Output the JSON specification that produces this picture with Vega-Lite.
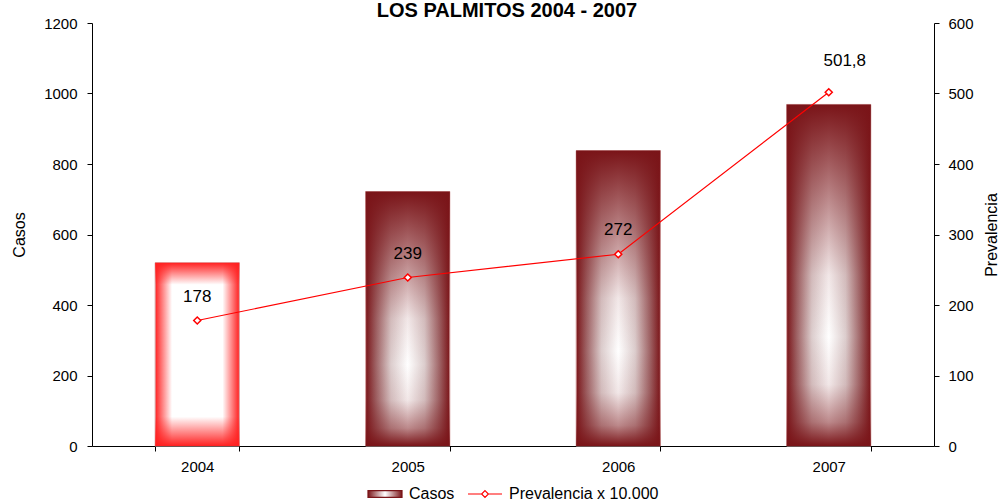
{
  "$schema": "https://vega.github.io/schema/vega-lite/v6.json",
  "autosize": {"type": "none"},
  "width": 842,
  "height": 423,
  "padding": {"left": 92, "top": 23, "right": 68, "bottom": 56},
  "background": "white",
  "title": {
    "text": "LOS PALMITOS 2004 - 2007",
    "font": "Liberation Sans",
    "fontSize": 20,
    "fontWeight": "bold",
    "color": "black",
    "anchor": "middle",
    "baseline": "alphabetic",
    "offset": -21,
    "dx": -6
  },
  "config": {
    "view": {"stroke": null},
    "axis": {
      "labelFont": "Liberation Sans",
      "titleFont": "Liberation Sans",
      "labelColor": "black",
      "titleColor": "black",
      "domainColor": "black",
      "tickColor": "black",
      "grid": false,
      "labelFontSize": 15,
      "titleFontSize": 16,
      "titleFontWeight": "normal"
    }
  },
  "data": {
    "values": [
      {"year": "2004", "Casos": 520, "Prevalencia": 178, "label": "178"},
      {"year": "2005", "Casos": 722, "Prevalencia": 239, "label": "239"},
      {"year": "2006", "Casos": 838, "Prevalencia": 272, "label": "272"},
      {"year": "2007", "Casos": 969, "Prevalencia": 501.8, "label": "501,8"}
    ]
  },
  "encoding": {
    "x": {
      "field": "year",
      "type": "ordinal",
      "scale": {"paddingInner": 0.6, "paddingOuter": 0.3},
      "axis": {"title": null, "labelAngle": 0, "tickBand": "extent", "tickSize": 5, "labelPadding": 8}
    }
  },
  "layer": [
    {
      "encoding": {
        "y": {
          "field": "Casos",
          "type": "quantitative",
          "scale": {"domain": [0, 1200]},
          "axis": {
            "values": [0, 200, 400, 600, 800, 1000, 1200],
            "format": "d",
            "tickSize": 5,
            "labelPadding": 10,
            "title": "Casos",
            "titlePadding": 16
          }
        }
      },
      "layer": [
        {
          "mark": {"type": "bar", "stroke": "#d9a8a8", "strokeWidth": 1},
          "encoding": {
            "fill": {
              "condition": {
                "test": "datum.year === '2004'",
                "value": {
                  "gradient": "linear", "x1": 0, "y1": 0, "x2": 1, "y2": 0,
                  "stops": [
                    {"offset": 0, "color": "#ff2020"},
                    {"offset": 0.2, "color": "#ffffff"},
                    {"offset": 0.8, "color": "#ffffff"},
                    {"offset": 1, "color": "#ff2020"}
                  ]
                }
              },
              "value": {
                "gradient": "linear", "x1": 0, "y1": 0, "x2": 1, "y2": 0,
                "stops": [
                  {"offset": 0, "color": "#7a1418"},
                  {"offset": 0.12, "color": "#9e6264"},
                  {"offset": 0.3, "color": "#dccdcd"},
                  {"offset": 0.5, "color": "#ffffff"},
                  {"offset": 0.7, "color": "#dccdcd"},
                  {"offset": 0.88, "color": "#9e6264"},
                  {"offset": 1, "color": "#7a1418"}
                ]
              }
            }
          }
        },
        {
          "mark": {"type": "bar"},
          "encoding": {
            "fill": {
              "condition": {
                "test": "datum.year === '2004'",
                "value": {
                  "gradient": "linear", "x1": 0, "y1": 0, "x2": 0, "y2": 1,
                  "stops": [
                    {"offset": 0, "color": "rgba(255,32,32,1)"},
                    {"offset": 0.12, "color": "rgba(255,32,32,0)"},
                    {"offset": 0.84, "color": "rgba(255,32,32,0)"},
                    {"offset": 1, "color": "rgba(255,32,32,1)"}
                  ]
                }
              },
              "value": {
                "gradient": "linear", "x1": 0, "y1": 0, "x2": 0, "y2": 1,
                "stops": [
                  {"offset": 0, "color": "rgba(122,20,24,1)"},
                  {"offset": 0.25, "color": "rgba(122,20,24,0.55)"},
                  {"offset": 0.5, "color": "rgba(122,20,24,0.1)"},
                  {"offset": 0.68, "color": "rgba(122,20,24,0)"},
                  {"offset": 0.82, "color": "rgba(122,20,24,0.1)"},
                  {"offset": 0.93, "color": "rgba(122,20,24,0.5)"},
                  {"offset": 1, "color": "rgba(122,20,24,1)"}
                ]
              }
            }
          }
        }
      ]
    },
    {
      "encoding": {
        "y": {
          "field": "Prevalencia",
          "type": "quantitative",
          "scale": {"domain": [0, 600]},
          "axis": {
            "orient": "right",
            "values": [0, 100, 200, 300, 400, 500, 600],
            "format": "d",
            "tickSize": 5,
            "labelPadding": 9,
            "title": "Prevalencia",
            "titleAngle": -90,
            "titleBaseline": "top",
            "titlePadding": 10
          }
        }
      },
      "layer": [
        {
          "mark": {"type": "line", "strokeWidth": 1.2},
          "encoding": {
            "color": {
              "datum": "Prevalencia x 10.000",
              "type": "nominal",
              "scale": {"domain": ["Casos", "Prevalencia x 10.000"], "range": ["#7a1418", "#ff0000"]},
              "legend": {
                "orient": "none",
                "legendX": 275,
                "legendY": 453,
                "direction": "horizontal",
                "title": null,
                "labelFont": "Liberation Sans",
                "labelFontSize": 16,
                "labelColor": "black",
                "labelOffset": 6,
                "columnPadding": 10,
                "symbolSize": 1156,
                "encode": {
                  "symbols": {
                    "update": {
                      "shape": [
                        {"test": "datum.value === 'Casos'", "value": "M-1,-0.2H1V0.2H-1Z"},
                        {"value": "M-1,0H-0.2M0.2,0H1M0,-0.2L0.2,0L0,0.2L-0.2,0Z"}
                      ],
                      "fill": [
                        {
                          "test": "datum.value === 'Casos'",
                          "value": {
                            "gradient": "linear", "x1": 0, "y1": 0, "x2": 1, "y2": 0,
                            "stops": [
                              {"offset": 0, "color": "#7a1418"},
                              {"offset": 0.5, "color": "#ffffff"},
                              {"offset": 1, "color": "#7a1418"}
                            ]
                          }
                        },
                        {"value": "#ffffff"}
                      ],
                      "stroke": [
                        {"test": "datum.value === 'Casos'", "value": "transparent"},
                        {"value": "#ff0000"}
                      ],
                      "strokeWidth": {"value": 1.2},
                      "size": {"value": 1156},
                      "opacity": {"value": 1}
                    }
                  }
                }
              }
            }
          }
        },
        {
          "mark": {"type": "point", "shape": "diamond", "size": 50, "filled": true, "fill": "#ffffff", "stroke": "#ff0000", "strokeWidth": 1.5, "opacity": 1}
        },
        {
          "transform": [{"filter": "datum.year !== '2007'"}],
          "mark": {"type": "text", "font": "Liberation Sans", "fontSize": 17, "color": "black", "dy": -24, "baseline": "middle"},
          "encoding": {"text": {"field": "label"}}
        },
        {
          "transform": [{"filter": "datum.year === '2007'"}],
          "mark": {"type": "text", "font": "Liberation Sans", "fontSize": 17, "color": "black", "dy": -31, "dx": 16, "baseline": "middle"},
          "encoding": {"text": {"field": "label"}}
        }
      ]
    }
  ],
  "resolve": {"scale": {"y": "independent"}}
}
